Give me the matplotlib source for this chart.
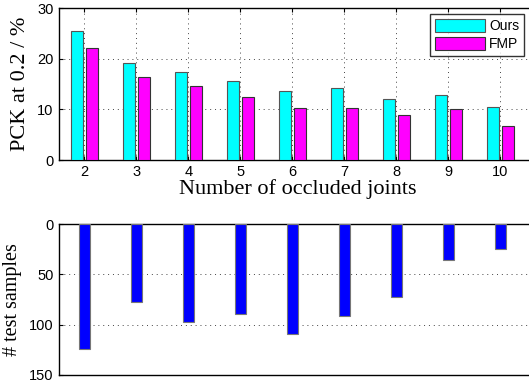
import numpy as np
import matplotlib
matplotlib.use('Agg')
import matplotlib.pyplot as plt

plt.rcParams['font.family'] = ['Liberation Sans', 'DejaVu Sans']

joints = [2, 3, 4, 5, 6, 7, 8, 9, 10]
ours = [25.5, 19.2, 17.45, 15.5, 13.7, 14.2, 12.1, 12.9, 10.5]
fmp = [22.1, 16.4, 14.7, 12.5, 10.3, 10.3, 8.8, 10.1, 6.8]
samples = [124, 77, 97, 89, 109, 91, 72, 36, 25]

fig = plt.figure(figsize=(5.29, 3.85), dpi=100)
ax1 = fig.add_axes([0.1106, 0.5844, 0.904, 0.3948])
ax2 = fig.add_axes([0.1106, 0.026, 0.904, 0.392])

x = np.array(joints)
ax1.bar(x - 0.14, ours, 0.23, color='#00ffff', edgecolor='#555555', linewidth=0.8, label='Ours', zorder=3)
ax1.bar(x + 0.14, fmp, 0.23, color='#ff00ff', edgecolor='#333333', linewidth=0.8, label='FMP', zorder=3)
ax1.set_xlim(1.5, 10.7)
ax1.set_ylim(0, 30)
ax1.set_xticks(joints)
ax1.set_yticks([0, 10, 20, 30])
ax1.grid(True, linestyle=(0, (1, 4)), color='#444444', linewidth=0.7)
ax1.set_axisbelow(True)
ax1.tick_params(direction='in', top=True, right=True, labelsize=10.5, length=3)
ax1.set_xlabel('Number of occluded joints', family='Liberation Serif', fontsize=16, labelpad=0)
ax1.set_ylabel('PCK at 0.2 / %', family='Liberation Serif', fontsize=16, labelpad=5)
leg = ax1.legend(loc='upper right', bbox_to_anchor=(0.9735, 0.96), fontsize=10, frameon=True,
                 fancybox=False, edgecolor='black', handlelength=3.6, handleheight=1.1,
                 borderpad=0.35, labelspacing=0.25, handletextpad=0.3, borderaxespad=0)
leg.get_frame().set_linewidth(1.0)

ax2.bar(x, samples, 0.21, color='#0000ff', edgecolor='#777777', linewidth=0.8, zorder=3)
ax2.set_xlim(1.5, 10.7)
ax2.set_ylim(150, 0)
ax2.set_xticks([])
ax2.set_yticks([0, 50, 100, 150])
ax2.grid(True, axis='y', linestyle=(0, (1, 4)), color='#444444', linewidth=0.7)
ax2.set_axisbelow(True)
ax2.tick_params(direction='in', right=True, labelsize=10.5, length=3)
ax2.set_ylabel('# test samples', family='Liberation Serif', fontsize=14.5, labelpad=5)

for ax in (ax1, ax2):
    for s in ax.spines.values():
        s.set_linewidth(1.0)

fig.savefig('out.png', dpi=100)
